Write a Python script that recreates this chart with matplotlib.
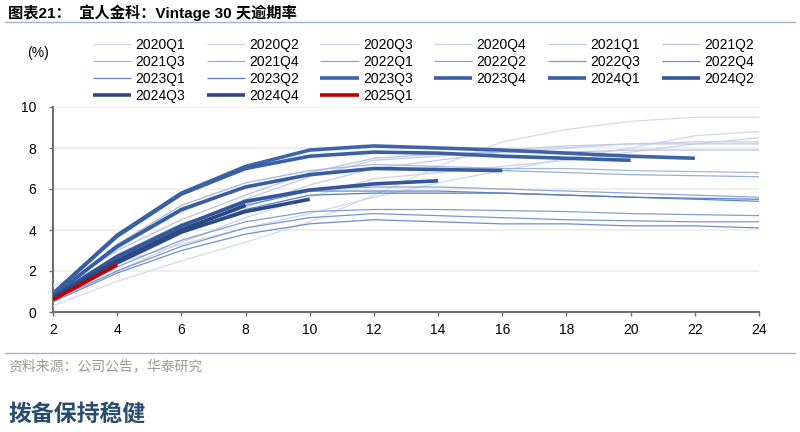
import matplotlib
matplotlib.use("Agg")
import matplotlib.pyplot as plt
from matplotlib.lines import Line2D

plt.rcParams['font.family'] = ['Liberation Sans', 'Noto Sans CJK SC', 'DejaVu Sans']

months = [2, 4, 6, 8, 10, 12, 14, 16, 18, 20, 22, 24]

labels = ["2020Q1", "2020Q2", "2020Q3", "2020Q4", "2021Q1", "2021Q2",
          "2021Q3", "2021Q4", "2022Q1", "2022Q2", "2022Q3", "2022Q4",
          "2023Q1", "2023Q2", "2023Q3", "2023Q4", "2024Q1", "2024Q2",
          "2024Q3", "2024Q4", "2025Q1"]

v2020Q1 = [0.3, 1.5, 2.5, 3.4, 4.4, 5.7, 7.1, 8.3, 8.9, 9.3, 9.5, 9.5]
v2020Q2 = [1.3, 2.4, 3.3, 4.1, 4.8, 5.6, 6.3, 6.9, 7.5, 8.0, 8.6, 8.8]
v2020Q3 = [0.5, 2.0, 3.4, 4.6, 5.6, 6.5, 6.8, 7.1, 7.4, 7.8, 8.2, 8.5]
v2020Q4 = [0.6, 2.3, 3.8, 5.1, 6.2, 7.0, 7.4, 7.8, 8.0, 8.2, 8.3, 8.3]
v2021Q1 = [0.8, 2.7, 4.2, 5.5, 6.6, 7.4, 7.6, 7.9, 8.1, 8.2, 8.2, 8.2]
v2021Q2 = [1.0, 3.0, 4.5, 5.7, 6.8, 7.5, 7.7, 7.8, 7.8, 7.9, 7.9, 7.9]
v2021Q3 = [0.9, 3.3, 5.2, 6.3, 6.9, 7.2, 7.1, 7.0, 7.0, 6.9, 6.85, 6.8]
v2021Q4 = [0.8, 3.1, 4.9, 6.1, 6.7, 7.0, 7.0, 6.9, 6.8, 6.7, 6.65, 6.6]
v2022Q1 = [0.8, 2.8, 4.3, 5.3, 6.0, 6.1, 6.1, 6.0, 5.9, 5.8, 5.7, 5.6]
v2022Q2 = [0.6, 2.2, 3.5, 4.4, 4.9, 5.0, 5.0, 4.95, 4.9, 4.8, 4.75, 4.7]
v2022Q3 = [0.6, 2.0, 3.2, 4.1, 4.6, 4.8, 4.7, 4.6, 4.5, 4.45, 4.4, 4.4]
v2022Q4 = [0.5, 1.9, 3.0, 3.8, 4.3, 4.5, 4.4, 4.3, 4.3, 4.2, 4.2, 4.1]
v2023Q1 = [0.7, 2.6, 4.1, 5.2, 5.9, 5.9, 5.9, 5.8, 5.7, 5.6, 5.5, 5.4]
v2023Q2 = [0.7, 2.5, 3.9, 5.0, 5.7, 5.8, 5.8, 5.8, 5.7, 5.6, 5.55, 5.5]
v2023Q3 = [0.9, 3.75, 5.8, 7.1, 7.9, 8.1, 8.0, 7.9, 7.75, 7.6, 7.5]
v2023Q4 = [0.9, 3.7, 5.75, 7.0, 7.6, 7.8, 7.75, 7.6, 7.5, 7.4]
v2024Q1 = [0.8, 3.2, 5.0, 6.1, 6.7, 7.0, 6.95, 6.9]
v2024Q2 = [0.75, 2.7, 4.2, 5.4, 5.95, 6.25, 6.4]
v2024Q3 = [0.7, 2.4, 3.9, 4.9, 5.5]
v2024Q4 = [0.7, 2.5, 4.0, 5.2]
v2025Q1 = [0.6, 2.3]

values = [v2020Q1, v2020Q2, v2020Q3, v2020Q4, v2021Q1, v2021Q2,
          v2021Q3, v2021Q4, v2022Q1, v2022Q2, v2022Q3, v2022Q4,
          v2023Q1, v2023Q2, v2023Q3, v2023Q4, v2024Q1, v2024Q2,
          v2024Q3, v2024Q4, v2025Q1]

colors = ["#D4DBEE", "#CFD7EC", "#CAD3EA", "#C4CEE8", "#BEC9E6", "#B7C3E3",
          "#A2B7DF", "#97AEDB", "#8DA6D7", "#839ED3", "#7996CF", "#6F8ECB",
          "#6287C8", "#567DC3", "#3C64A8", "#3A60A4", "#385DA0", "#34579A",
          "#2C4B86", "#2B4882", "#C00000"]
widths = [0.9] * 14 + [2.6] * 6 + [2.6]

fig = plt.figure(figsize=(8.0, 4.32), dpi=100)
ax = fig.add_axes([53 / 800, 1 - 312 / 432, (759 - 53) / 800, (312 - 107) / 432])

for lab, vals, c, w in zip(labels, values, colors, widths):
    ax.plot(months[:len(vals)], vals, color=c, lw=w, label=lab,
            solid_capstyle='butt', zorder=3)

ax.set_xlim(2, 24)
ax.set_ylim(0, 10)
ax.set_xticks(months)
ax.set_yticks([0, 2, 4, 6, 8, 10])
ax.yaxis.grid(True, color="#EFEFEF", lw=1.5, zorder=0)
ax.set_axisbelow(True)
for s in ["top", "right"]:
    ax.spines[s].set_visible(False)
for s in ["left", "bottom"]:
    ax.spines[s].set_color("#6E6E6E")
    ax.spines[s].set_linewidth(1.5)
ax.tick_params(axis='y', length=3, width=1, color="#6E6E6E", pad=9, labelsize=10)
ax.tick_params(axis='x', length=3, width=1, color="#6E6E6E", pad=5, labelsize=10)

handles, labs = ax.get_legend_handles_labels()
ncol = 6
nrow = 4
order = []
for j in range(ncol):
    for i in range(nrow):
        k = i * ncol + j
        if k < len(handles):
            order.append(k)
fig.legend([handles[k] for k in order], [labs[k] for k in order],
           ncol=ncol, loc='upper left',
           bbox_to_anchor=(93 / 800, 1 - 38 / 432), frameon=False,
           fontsize=10, handlelength=2.75, handletextpad=0.3,
           columnspacing=1.55, labelspacing=0.22, borderpad=0,
           borderaxespad=0)

fig.text(27 / 800, 1 - 53 / 432, "(%)", fontsize=10, ha='left', va='center')

fig.text(8 / 800, 1 - 13 / 432, "图表21：  宜人金科：Vintage 30 天逾期率",
         fontsize=11, fontweight='bold', ha='left', va='center')
fig.add_artist(Line2D([5 / 800, 795 / 800], [1 - 22 / 432, 1 - 22 / 432],
                      color="#9FB3CC", lw=1))
fig.add_artist(Line2D([5 / 800, 795 / 800], [1 - 352.5 / 432, 1 - 352.5 / 432],
                      color="#9FB3CC", lw=1))
fig.text(8 / 800, 1 - 366 / 432, "资料来源：公司公告，华泰研究",
         fontsize=10, color="#9A9A9A", ha='left', va='center')
fig.text(8 / 800, 1 - 414 / 432, "拨备保持稳健",
         fontsize=16.5, fontweight='bold', color="#2A4D6E", ha='left', va='center')

fig.savefig("out.png", dpi=100)
